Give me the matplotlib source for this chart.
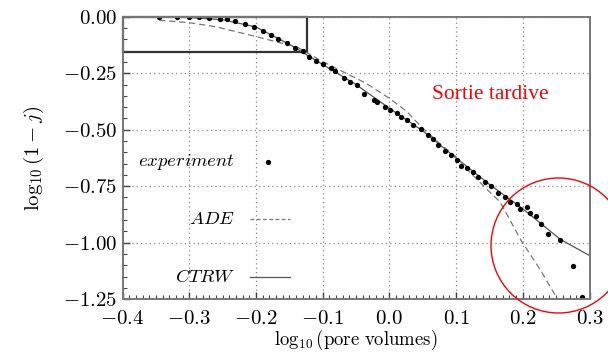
import matplotlib
matplotlib.use("Agg")
import matplotlib.pyplot as plt
from matplotlib.patches import Rectangle, Ellipse
from matplotlib.ticker import MultipleLocator

plt.rcParams['mathtext.fontset'] = 'cm'
plt.rcParams['font.family'] = 'serif'
plt.rcParams['font.serif'] = ['cmr10']
plt.rcParams['axes.formatter.use_mathtext'] = True

# experiment points
exp_x = [-0.346, -0.319, -0.301, -0.285, -0.270, -0.254, -0.243, -0.231, -0.216, -0.203,
         -0.189, -0.178, -0.167, -0.154, -0.142, -0.130, -0.120, -0.110, -0.100, -0.088,
         -0.082, -0.068, -0.059, -0.049, -0.038, -0.023, -0.018, -0.007, 0.001, 0.011,
         0.018, 0.026, 0.036, 0.047, 0.058, 0.066, 0.073, 0.083, 0.093, 0.101,
         0.108, 0.116, 0.126, 0.133, 0.143, 0.153, 0.163, 0.173, 0.181, 0.191,
         0.196, 0.206, 0.211, 0.220, 0.228, 0.238, 0.256, 0.275, 0.288]
exp_y = [0.0, 0.0, 0.0, 0.0, -0.007, -0.010, -0.010, -0.020, -0.033, -0.044,
         -0.063, -0.080, -0.100, -0.118, -0.136, -0.152, -0.176, -0.194, -0.211, -0.226,
         -0.241, -0.270, -0.288, -0.303, -0.340, -0.370, -0.375, -0.400, -0.411, -0.425,
         -0.444, -0.459, -0.478, -0.496, -0.523, -0.540, -0.567, -0.592, -0.612, -0.633,
         -0.659, -0.671, -0.689, -0.711, -0.730, -0.748, -0.781, -0.800, -0.822, -0.830,
         -0.852, -0.844, -0.867, -0.882, -0.919, -0.963, -0.987, -1.102, -1.24]

ade_x = [-0.345, -0.30, -0.26, -0.224, -0.199, -0.164, -0.139, -0.104, -0.069, -0.034,
         0.001, 0.026, 0.048, 0.075, 0.10, 0.121, 0.146, 0.166, 0.198, 0.226, 0.248, 0.252]
ade_y = [-0.015, -0.026, -0.044, -0.070, -0.088, -0.115, -0.133, -0.192, -0.244, -0.296,
         -0.363, -0.419, -0.488, -0.56, -0.62, -0.689, -0.763, -0.82, -0.993, -1.119, -1.23, -1.25]

ctrw_x = [-0.35, -0.30, -0.25, -0.20, -0.15, -0.10, -0.05, 0.0, 0.05, 0.10, 0.15, 0.20, 0.256, 0.30]
ctrw_y = [0.0, -0.003, -0.013, -0.045, -0.122, -0.211, -0.300, -0.405, -0.505, -0.625, -0.742, -0.850, -0.985, -1.057]

fig = plt.figure(figsize=(6.08, 3.54), dpi=100)
ax = fig.add_axes([0.2016, 0.155, 0.768, 0.7975])

ax.plot(ctrw_x, ctrw_y, color='#555555', lw=0.9)
ax.plot(ade_x, ade_y, color='#777777', lw=0.9, ls=(0, (5, 3)))
ax.plot(exp_x, exp_y, 'o', color='black', ms=3.8, markeredgewidth=0)

ax.add_patch(Rectangle((-0.4, -0.155), 0.277, 0.155, fill=False,
                       edgecolor='#333333', lw=1.6, clip_on=False))

# legend drawn as text like the original
ax.text(-0.231, -0.643, r'$experiment$', fontsize=13.5, ha='right', va='center')
ax.plot([-0.182], [-0.643], 'o', color='black', ms=3.8, markeredgewidth=0)
ax.text(-0.231, -0.895, r'$ADE$', fontsize=13.5, ha='right', va='center')
ax.plot([-0.209, -0.149], [-0.895, -0.895], color='#777777', lw=0.9, ls=(0, (3, 2)))
ax.text(-0.231, -1.15, r'$CTRW$', fontsize=13.5, ha='right', va='center')
ax.plot([-0.209, -0.149], [-1.15, -1.15], color='#555555', lw=0.9)

ax.set_xlim(-0.4, 0.3)
ax.set_ylim(-1.25, 0.0)
ax.xaxis.set_major_locator(MultipleLocator(0.1))
ax.xaxis.set_minor_locator(MultipleLocator(0.01))
ax.yaxis.set_major_locator(MultipleLocator(0.25))
ax.yaxis.set_minor_locator(MultipleLocator(0.05))
ax.xaxis.set_major_formatter(plt.FuncFormatter(lambda v, p: r'$%.1f$' % v))
ax.yaxis.set_major_formatter(plt.FuncFormatter(lambda v, p: r'$%.2f$' % v))
ax.tick_params(which='both', direction='in', top=False, right=False, labelsize=15, color='#444444')
ax.tick_params(which='major', length=5, width=1)
ax.tick_params(axis='x', which='major', pad=8)
ax.tick_params(axis='y', which='major', pad=4)
ax.tick_params(which='minor', length=3, width=0.8)
ax.grid(True, which='major', ls=(0, (1, 2.5)), color='#888888', lw=0.9)
for s in ax.spines.values():
    s.set_color('#777777')
    s.set_linewidth(1.4)

ax.set_xlabel(r'$\log_{10}(\mathrm{pore\ volumes})$', fontsize=13.5, labelpad=0)
ax.set_ylabel(r'$\log_{10}(1-j)$', fontsize=15, labelpad=12)

fig.text(0.806, 0.732, 'Sortie tardive', color='red', fontsize=15.5,
         fontfamily=['Liberation Serif'], ha='center', va='center')
fig.add_artist(Ellipse((0.9186, 0.3065), 2 * 67.5 / 608, 2 * 67.5 / 354,
                       transform=fig.transFigure, fill=False, edgecolor='red', lw=1.0))

fig.savefig('out.png', dpi=100)
